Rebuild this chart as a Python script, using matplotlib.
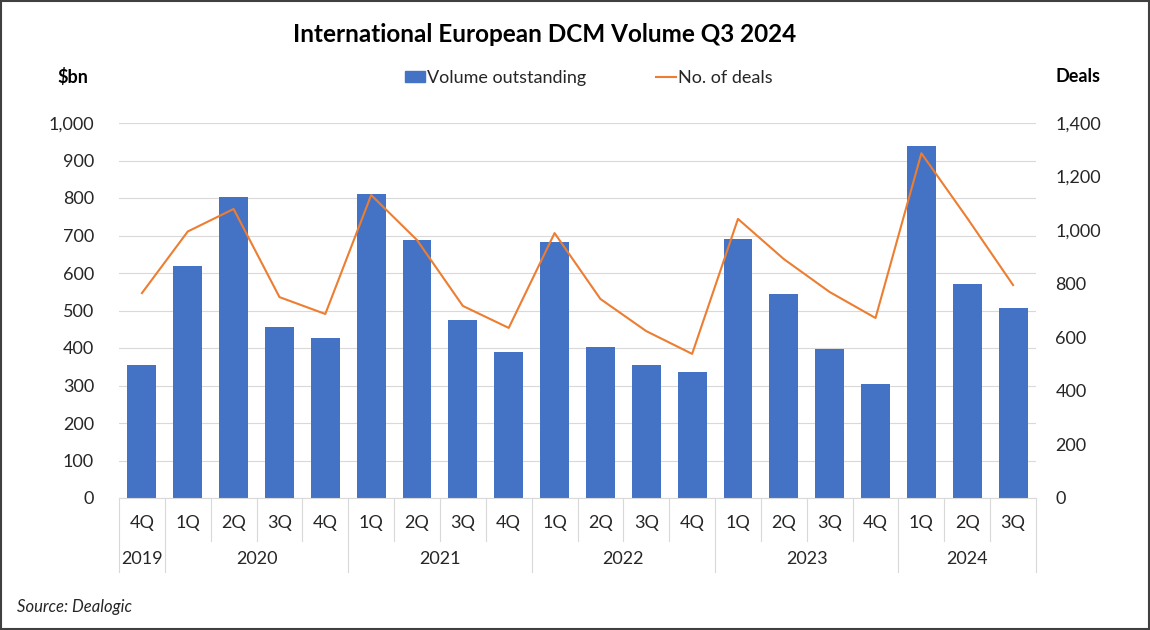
import numpy as np
import matplotlib.pyplot as plt
from matplotlib.patches import Rectangle
from matplotlib.lines import Line2D
from matplotlib.ticker import FuncFormatter, MultipleLocator

plt.rcParams['font.family'] = ['Lato', 'DejaVu Sans']

# Quarter labels, year groups and the two series
quarters = ['4Q', '1Q', '2Q', '3Q', '4Q', '1Q', '2Q', '3Q', '4Q', '1Q',
            '2Q', '3Q', '4Q', '1Q', '2Q', '3Q', '4Q', '1Q', '2Q', '3Q']
years = ['2019', '2020', '2021', '2022', '2023', '2024']
year_counts = [1, 4, 4, 4, 4, 3]
volume = [355, 618, 803, 455, 428, 810, 688, 475, 390, 682,
          403, 355, 335, 690, 545, 397, 305, 940, 572, 506]
deals = [765, 995, 1079, 750, 687, 1131, 963, 717, 635, 989,
         743, 623, 538, 1042, 892, 769, 672, 1287, 1045, 795]

bar_color = '#4472C4'
line_color = '#ED7D31'
grid_color = '#D9D9D9'
text_color = '#262626'

fig = plt.figure(figsize=(11.5, 6.3), dpi=100)
ax = fig.add_axes([119 / 1150, 1 - 498 / 630, (1036 - 119) / 1150, 375 / 630])
x = np.arange(len(quarters))

ax.bar(x, volume, width=0.63, color=bar_color, zorder=2)
ax.set_xlim(-0.5, len(quarters) - 0.5)
ax.set_ylim(0, 1000)
ax.yaxis.set_major_locator(MultipleLocator(100))
ax.yaxis.set_major_formatter(FuncFormatter(lambda v, p: f'{v:,.0f}'))
ax.grid(axis='y', color=grid_color, linewidth=0.8, zorder=0)
ax.set_axisbelow(True)
for s in ['top', 'left', 'right']:
    ax.spines[s].set_visible(False)
ax.spines['bottom'].set_color(grid_color)
ax.tick_params(axis='y', length=0, pad=18, labelsize=13, labelcolor=text_color)
ax.set_xticks([])

ax2 = ax.twinx()
ax2.plot(x, deals, color=line_color, linewidth=1.5, zorder=3)
ax2.set_ylim(0, 1400)
ax2.yaxis.set_major_locator(MultipleLocator(200))
ax2.yaxis.set_major_formatter(FuncFormatter(lambda v, p: f'{v:,.0f}'))
for s in ax2.spines.values():
    s.set_visible(False)
ax2.tick_params(axis='y', length=0, pad=14, labelsize=13, labelcolor=text_color)

# Two-level category axis
trans = ax.get_xaxis_transform()
for i, q in enumerate(quarters):
    ax.text(i, -0.067, q, transform=trans, ha='center', va='center',
            fontsize=13, color=text_color)
bounds = np.concatenate([[0], np.cumsum(year_counts)])
for k, yr in enumerate(years):
    mid = (bounds[k] + bounds[k + 1]) / 2 - 0.5
    ax.text(mid, -0.163, yr, transform=trans, ha='center', va='center',
            fontsize=13, color=text_color)
for b in range(len(quarters) + 1):
    bottom = -0.197 if b in bounds else -0.115
    ax.plot([b - 0.5, b - 0.5], [0, bottom], transform=trans, color=grid_color,
            linewidth=0.8, clip_on=False)

# Titles and axis captions
fig.text(545 / 1150, 1 - 35 / 630, 'International European DCM Volume Q3 2024',
         ha='center', va='center', fontsize=17.5, fontweight='bold', color='black')
fig.text(73 / 1150, 1 - 77 / 630, '$bn', ha='center', va='center',
         fontsize=13, fontweight='bold', color='black')
fig.text(1078 / 1150, 1 - 76 / 630, 'Deals', ha='center', va='center',
         fontsize=13, fontweight='bold', color='black')
fig.text(17 / 1150, 1 - 607 / 630, 'Source: Dealogic', ha='left', va='center',
         fontsize=12, style='italic', color=text_color)

handles = [Rectangle((0, 0), 1, 1, color=bar_color),
           Line2D([0], [0], color=line_color, linewidth=1.5)]
fig.legend(handles, ['Volume outstanding', 'No. of deals'], loc='center',
           bbox_to_anchor=(589 / 1150, 1 - 78 / 630), ncol=2, frameon=False,
           fontsize=13, handlelength=1.1, handletextpad=0.1, columnspacing=3.9,
           handleheight=0.6, labelcolor=text_color)

fig.patches.append(Rectangle((0.001, 0.001), 0.998, 0.998, transform=fig.transFigure,
                             fill=False, edgecolor='#404040', linewidth=1.5))

fig.savefig('out.png', dpi=100, facecolor='white')
